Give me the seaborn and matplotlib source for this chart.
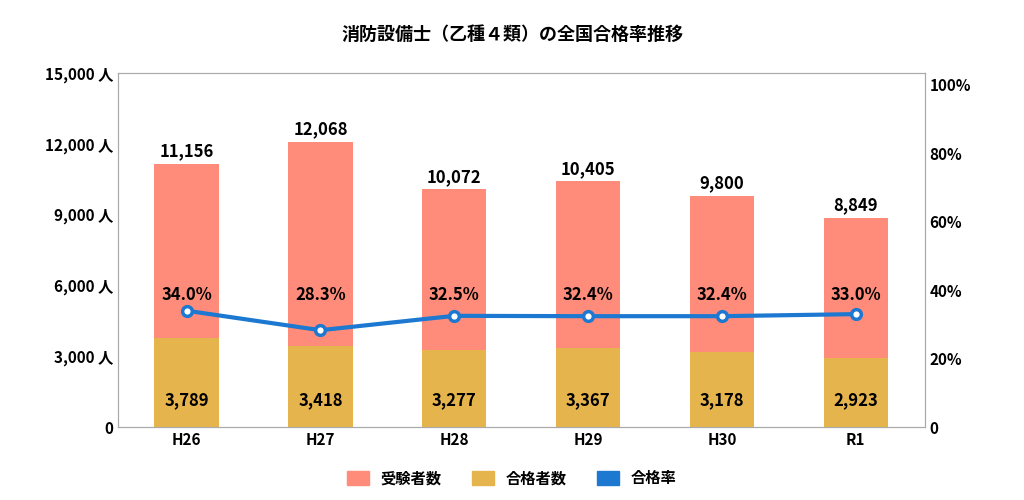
import matplotlib.pyplot as plt
import seaborn as sns
import pandas as pd
import numpy as np
from matplotlib.patches import Patch

plt.rcParams['font.family'] = 'Noto Sans CJK JP'
plt.rcParams['font.weight'] = 'bold'

years = ['H26', 'H27', 'H28', 'H29', 'H30', 'R1']
examinees = [11156, 12068, 10072, 10405, 9800, 8849]
passers = [3789, 3418, 3277, 3367, 3178, 2923]
pass_rate = [34.0, 28.3, 32.5, 32.4, 32.4, 33.0]

df = pd.DataFrame({'year': years, 'examinees': examinees,
                   'passers': passers, 'rate': pass_rate})

c_total = '#FF8C7A'
c_pass = '#E6B44C'
c_line = '#1C78D0'

fig, ax = plt.subplots(figsize=(10.24, 5.0), dpi=100)
fig.subplots_adjust(left=0.115, right=0.903, top=0.854, bottom=0.146)

sns.barplot(data=df, x='year', y='examinees', color=c_total, width=0.48,
            saturation=1, ax=ax, zorder=2)
sns.barplot(data=df, x='year', y='passers', color=c_pass, width=0.48,
            saturation=1, ax=ax, zorder=3)

ax.set_ylim(0, 15000)
ax.set_yticks(np.arange(0, 15001, 3000))
ax.set_yticklabels(['0'] + [f'{v:,} 人' for v in range(3000, 15001, 3000)])
ax.set_xlabel('')
ax.set_ylabel('')
ax.tick_params(length=0, labelsize=11)
for s in ax.spines.values():
    s.set_color('#AAAAAA')

for i, (t, p, r) in enumerate(zip(examinees, passers, pass_rate)):
    ax.text(i, t + 150, f'{t:,}', ha='center', va='bottom', fontsize=12)
    ax.text(i, 1150, f'{p:,}', ha='center', va='center', fontsize=12)
    ax.text(i, 5600, f'{r:.1f}%', ha='center', va='center', fontsize=12)

ax2 = ax.twinx()
ax2.plot(range(len(years)), pass_rate, color=c_line, lw=3, marker='o', ms=7,
         mfc='white', mec=c_line, mew=2.5, zorder=5)
ax2.set_ylim(0, 103.5)
ax2.set_yticks(range(0, 101, 20))
ax2.set_yticklabels(['0'] + [f'{v}%' for v in range(20, 101, 20)])
ax2.tick_params(length=0, labelsize=11)
for s in ax2.spines.values():
    s.set_color('#AAAAAA')

fig.suptitle('消防設備士（乙種４類）の全国合格率推移', y=0.95, fontsize=13,
             fontweight='bold')

handles = [Patch(color=c_total, label='受験者数'),
           Patch(color=c_pass, label='合格者数'),
           Patch(color=c_line, label='合格率')]
fig.legend(handles=handles, loc='lower center', ncol=3, frameon=False,
           fontsize=11, bbox_to_anchor=(0.5, 0.0), handlelength=1.4,
           handleheight=1.0)

fig.savefig('out.png')
